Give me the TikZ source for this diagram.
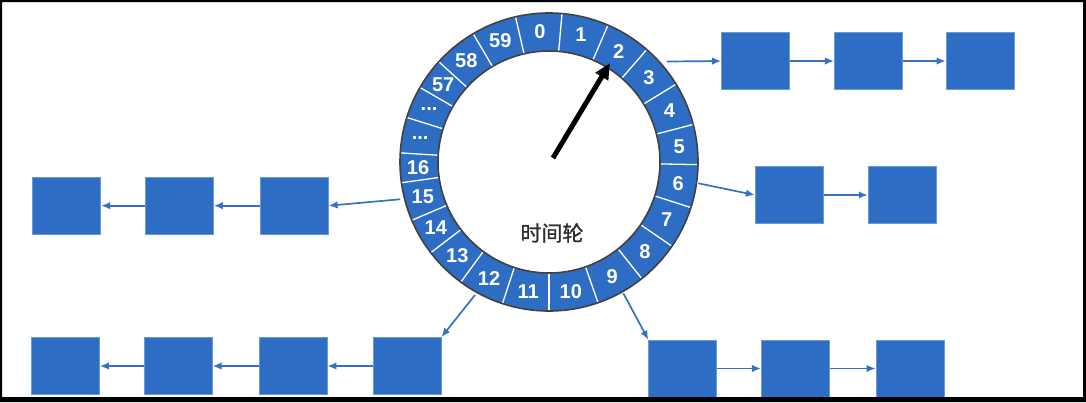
\documentclass[tikz,border=0pt]{standalone}
\usepackage{fontspec}
\setmainfont{Liberation Sans}
\newfontfamily\cjk[FakeBold=1.2]{Noto Sans CJK SC}
\usetikzlibrary{arrows.meta,calc}
\definecolor{boxblue}{RGB}{46,109,196}
\definecolor{linkblue}{RGB}{52,114,198}
\definecolor{ringline}{RGB}{65,65,65}
\definecolor{textgray}{RGB}{45,45,45}
\newcommand{\tridot}{...}
\begin{document}
\begin{tikzpicture}[x=1pt,y=1pt,
  blk/.style={minimum width=68pt,minimum height=57pt,inner sep=0pt,fill=boxblue,draw=boxblue!70!white,line width=0.8pt},
  link/.style={draw=linkblue,line width=1.7pt,-{Latex[length=9pt,width=7.5pt]}},
  num/.style={text=white,font=\bfseries\fontsize{20}{20}\selectfont,inner sep=0pt},
  divider/.style={white,line width=1.3pt}
]
\useasboundingbox (0,0) rectangle (1086,-402);
\fill[white] (0,0) rectangle (1086,-402);
% wheel
\coordinate (C) at (549,-162);
\fill[boxblue,even odd rule] (C) circle (149) (C) circle (111);
\foreach \b in {-13,5,23.3,41,58.5,75.4,91,107.8,124.4,141.5,160.8,180,198.2,216.3,232.5,247,262,273.5,287.4,300,312.3,329.4}
  \draw[divider] ($(C)+({90-\b}:111)$) -- ($(C)+({90-\b}:149)$);
\draw[ringline,line width=1.6pt] (C) circle (149) (C) circle (111);
\foreach \a/\t [count=\i] in {-4/0,14.15/1,32.15/2,49.75/3,66.95/4,83.2/5,99.4/6,116.1/7,132.95/8,151.15/9,170.4/10,189.1/11,207.25/12,224.4/13,239.75/14,254.5/15,267.75/16,280.45/\tridot,293.7/\tridot,306.15/57,320.85/58,338.2/59}
  \node[num] (n\i) at ($(C)+({90-\a}:131)$) {\t};
\node[text=textgray,font=\cjk\fontsize{21}{21}\selectfont] (title) at (552,-233) {时间轮};
% hand
\coordinate (hub) at (553,-158);
\coordinate (tip) at (610,-63);
\draw[black,line width=5pt,-{Triangle[length=16pt,width=14pt]}] (hub) -- (tip);
% ring anchor points
\coordinate (r2) at (666.7,-61.5);
\coordinate (r6) at (698.3,-183.3);
\coordinate (r15) at (400,-199.3);
\coordinate (r12) at (475,-295);
\coordinate (r9) at (623.3,-293.3);
% boxes
\node[blk] (t1) at (755.5,-61) {};
\node[blk] (t2) at (868.3,-61) {};
\node[blk] (t3) at (980,-61) {};
\node[blk] (m1) at (789.2,-195) {};
\node[blk] (m2) at (902.2,-195) {};
\node[blk] (l1) at (66.7,-205.7) {};
\node[blk] (l2) at (179.5,-205.7) {};
\node[blk] (l3) at (294.2,-205.7) {};
\node[blk] (bl1) at (65.5,-366) {};
\node[blk] (bl2) at (178.2,-366) {};
\node[blk] (bl3) at (293,-366) {};
\node[blk] (bl4) at (407,-366) {};
\node[blk] (br1) at (682.7,-368.5) {};
\node[blk] (br2) at (795.3,-368.5) {};
\node[blk] (br3) at (910,-368.5) {};
% links
\draw[link] (r2) -- (t1.west);
\draw[link] (t1) -- (t2);
\draw[link] (t2) -- (t3);
\draw[link] (r6) -- (m1.west);
\draw[link] (m1) -- (m2);
\draw[link] (r15) -- (l3.east);
\draw[link] (l3) -- (l2);
\draw[link] (l2) -- (l1);
\draw[link] (r12) -- (bl4.north east);
\draw[link] (bl4) -- (bl3);
\draw[link] (bl3) -- (bl2);
\draw[link] (bl2) -- (bl1);
\draw[link] (r9) -- (br1.north west);
\draw[link] (br1) -- (br2);
\draw[link] (br2) -- (br3);
% frame
\fill[black,even odd rule] (0,0) rectangle (1086,-402) (2,-2) rectangle (1083,-397);
\end{tikzpicture}
\end{document}
